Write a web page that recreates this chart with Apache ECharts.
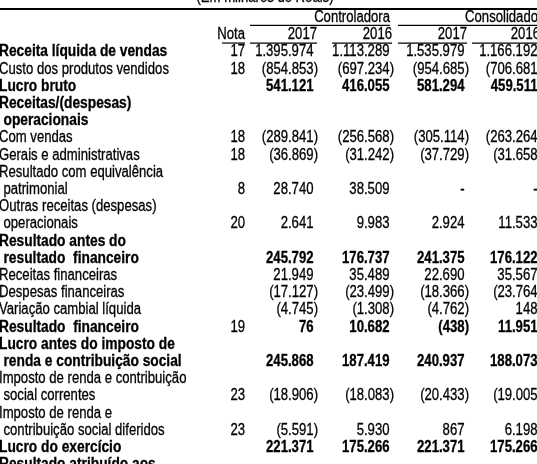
<!DOCTYPE html>
<html><head><meta charset="utf-8">
<script src="https://cdn.jsdelivr.net/npm/echarts@6/dist/echarts.min.js"></script>
<style>html,body{margin:0;padding:0;background:#fff}#c{width:537px;height:464px}</style>
</head><body><div id="c"></div><script>
// ---- data ----
const unitTitle = '(Em milhares de Reais)';
const groupHeaders = ['Controladora', 'Consolidado'];
const yearHeaders = ['2017', '2016', '2017', '2016'];
const notaHeader = 'Nota';
const rowLabels = [
  'Receita líquida de vendas',
  'Custo dos produtos vendidos',
  'Lucro bruto',
  'Receitas/(despesas)',
  'operacionais',
  'Com vendas',
  'Gerais e administrativas',
  'Resultado com equivalência',
  'patrimonial',
  'Outras receitas (despesas)',
  'operacionais',
  'Resultado antes do',
  'resultado  financeiro',
  'Receitas financeiras',
  'Despesas financeiras',
  'Variação cambial líquida',
  'Resultado  financeiro',
  'Lucro antes do imposto de',
  'renda e contribuição social',
  'Imposto de renda e contribuição',
  'social correntes',
  'Imposto de renda e',
  'contribuição social diferidos',
  'Lucro do exercício',
  'Resultado atribuído aos'
];
const notas = [17, 18, null, null, null, 18, 18, null, 8, null, 20, null, null, null, null, null, 19, null, null, null, 23, null, 23, null, null];
const ctrl2017 = [1395974, -854853, 541121, null, null, -289841, -36869, null, 28740, null, 2641, null, 245792, 21949, -17127, -4745, 76, null, 245868, null, -18906, null, -5591, 221371, null];
const ctrl2016 = [1113289, -697234, 416055, null, null, -256568, -31242, null, 38509, null, 9983, null, 176737, 35489, -23499, -1308, 10682, null, 187419, null, -18083, null, 5930, 175266, null];
const cons2017 = [1535979, -954685, 581294, null, null, -305114, -37729, null, 0, null, 2924, null, 241375, 22690, -18366, -4762, -438, null, 240937, null, -20433, null, 867, 221371, null];
const cons2016 = [1166192, -706681, 459511, null, null, -263264, -31658, null, 0, null, 11533, null, 176122, 35567, -23764, 148, 11951, null, 188073, null, -19005, null, 6198, 175266, null];
const boldLabelRows = [0, 2, 3, 4, 11, 12, 16, 17, 18, 23, 24];
const boldValueRows = [2, 12, 16, 18, 23];
const indentRows = [4, 8, 10, 12, 18, 20, 22];

// ---- layout / style ----
const FONT_FAMILY = 'Liberation Sans';
const FS = 16;
const NARROW = 0.82, NARROW_BOLD_LABEL = 0.86;
const COLOR = '#000';
const ROW0 = 52, ROWH = 17.2, W = 537, H = 464;
const yMin = -ROW0 / ROWH, yMax = (H - ROW0) / ROWH;
const labelX = -1, indentX = 3.5;
const notaRight = 245;
const valueRights = [318, 394, 469, 542];
const posPad = 4.5;
const groupRights = [390, 538];
const yearRights = [317, 392, 467, 540];
const titleCenter = 265, titleRow = -3.15;
const rules = [
  {x1: 0, x2: W, r: -2.5, w: 2},
  {x1: 250, x2: 390, r: -1.55, w: 1.2},
  {x1: 398, x2: W + 5, r: -1.55, w: 1.2},
  {x1: 222, x2: 245, r: -0.52, w: 1.2},
  {x1: 250, x2: 317, r: -0.52, w: 1.2},
  {x1: 332, x2: 392, r: -0.52, w: 1.2},
  {x1: 398, x2: 467, r: -0.52, w: 1.2},
  {x1: 472, x2: W + 5, r: -0.52, w: 1.2}
];

function fmtNum(v) {
  if (v === null || v === undefined) return '';
  if (v === 0) return '-';
  const s = Math.abs(v).toString().replace(/\B(?=(\d{3})+(?!\d))/g, '.');
  return v < 0 ? '(' + s + ')' : s;
}

// build cells
const cells = [];
cells.push({x: titleCenter, r: titleRow, text: unitTitle, align: 'center', bold: false, dx: 0, sx: NARROW});
groupHeaders.forEach((g, i) => cells.push({x: groupRights[i], r: -2, text: g, align: 'right', bold: false, dx: 0, sx: NARROW}));
cells.push({x: notaRight, r: -1, text: notaHeader, align: 'right', bold: false, dx: 0, sx: NARROW});
yearHeaders.forEach((y, i) => cells.push({x: yearRights[i], r: -1, text: y, align: 'right', bold: false, dx: 0, sx: NARROW}));
const valueCols = [ctrl2017, ctrl2016, cons2017, cons2016];
rowLabels.forEach((lab, r) => {
  const b = boldLabelRows.includes(r);
  cells.push({x: indentRows.includes(r) ? indentX : labelX, r, text: lab, align: 'left', bold: b, dx: 0, sx: b ? NARROW_BOLD_LABEL : NARROW});
  if (notas[r] !== null) cells.push({x: notaRight, r, text: String(notas[r]), align: 'right', bold: false, dx: 0, sx: NARROW});
  valueCols.forEach((col, ci) => {
    const v = col[r];
    if (v === null) return;
    cells.push({x: valueRights[ci], r, text: fmtNum(v), align: 'right', bold: boldValueRows.includes(r), dx: v < 0 ? 0 : -posPad, sx: NARROW});
  });
});

const chart = echarts.init(document.getElementById('c'), null, {renderer: 'canvas'});
chart.setOption({
  backgroundColor: '#fff',
  animation: false,
  grid: {left: 0, right: 0, top: 0, bottom: 0},
  xAxis: {type: 'value', min: 0, max: W, show: false},
  yAxis: {type: 'value', min: yMin, max: yMax, inverse: true, show: false},
  series: [
    {
      type: 'custom',
      clip: false,
      data: rules.map(l => [l.x1, l.r, l.x2]),
      renderItem: (params, api) => {
        const l = rules[params.dataIndex];
        const p1 = api.coord([l.x1, l.r]);
        const p2 = api.coord([l.x2, l.r]);
        return {type: 'line', shape: {x1: p1[0], y1: p1[1], x2: p2[0], y2: p2[1]}, style: {stroke: COLOR, lineWidth: l.w}};
      }
    },
    {
      type: 'custom',
      clip: false,
      data: cells.map(c => [c.x, c.r]),
      renderItem: (params, api) => {
        const c = cells[params.dataIndex];
        const p = api.coord([c.x, c.r]);
        return {
          type: 'text',
          x: p[0] + c.dx, y: p[1],
          scaleX: c.sx, scaleY: 1,
          style: {
            x: 0, y: 0,
            text: c.text, align: c.align, verticalAlign: 'middle',
            fontFamily: FONT_FAMILY, fontSize: FS, fontWeight: c.bold ? 'bold' : 'normal',
            fill: COLOR, stroke: COLOR, lineWidth: 0.3
          }
        };
      }
    }
  ]
});
</script></body></html>
